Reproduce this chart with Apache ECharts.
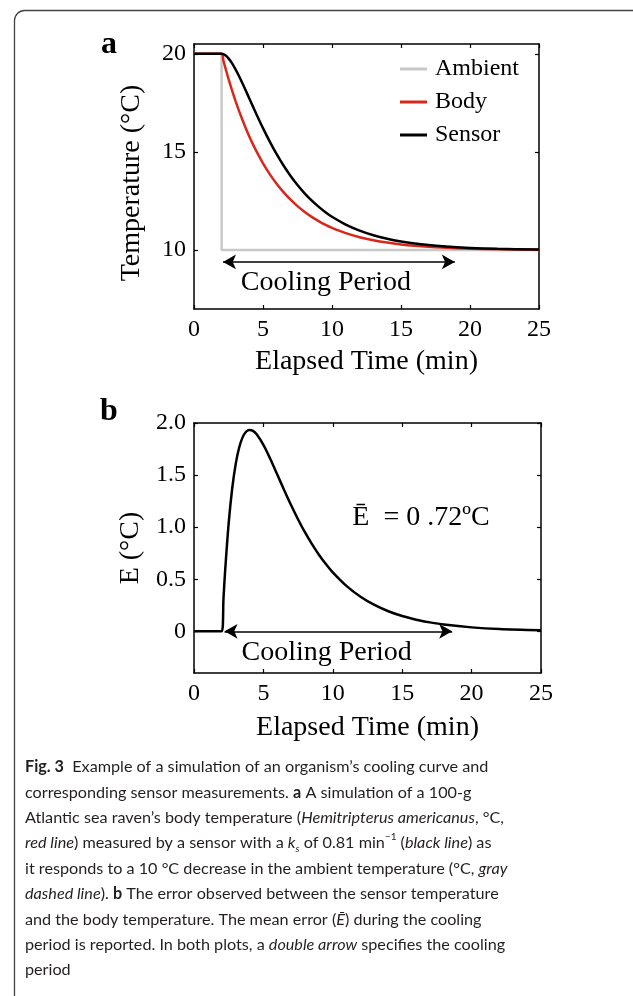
<!DOCTYPE html>
<html>
<head>
<meta charset="utf-8">
<script src="https://cdn.jsdelivr.net/npm/echarts@6.0.0/dist/echarts.min.js"></script>
<style>
html,body{margin:0;padding:0;background:#fff;}
#chart{width:633px;height:996px;}
</style>
</head>
<body>
<div id="chart"></div>
<script>
// ---- data ----
const timeMin = [0, 2, 2.125, 2.25, 2.5, 2.75, 3, 3.25, 3.5, 3.75, 4, 4.25, 4.5, 5, 5.5, 6, 6.5, 7, 7.5, 8, 8.5, 9, 9.5, 10, 11, 12, 13, 14, 15, 16, 17, 18, 20, 22, 25];
const bodyTemp = [20, 20, 19.666, 19.343, 18.728, 18.155, 17.619, 17.118, 16.650, 16.213, 15.804, 15.423, 15.066, 14.422, 13.860, 13.369, 12.941, 12.567, 12.240, 11.955, 11.707, 11.490, 11.300, 11.135, 10.865, 10.659, 10.502, 10.383, 10.291, 10.222, 10.169, 10.129, 10.075, 10.043, 10.019];
const sensorTemp = [20, 20, 19.984, 19.937, 19.769, 19.524, 19.222, 18.880, 18.512, 18.129, 17.738, 17.348, 16.960, 16.213, 15.515, 14.874, 14.296, 13.777, 13.314, 12.904, 12.544, 12.226, 11.946, 11.701, 11.299, 10.991, 10.755, 10.576, 10.438, 10.334, 10.255, 10.194, 10.113, 10.065, 10.029];
const errorVals = [0, 0, 0.318, 0.594, 1.041, 1.369, 1.603, 1.762, 1.862, 1.916, 1.934, 1.925, 1.894, 1.791, 1.655, 1.505, 1.355, 1.210, 1.074, 0.949, 0.837, 0.736, 0.646, 0.566, 0.434, 0.332, 0.253, 0.193, 0.147, 0.112, 0.086, 0.065, 0.038, 0.022, 0.010];
const ambientTime = [0, 2, 2, 25];
const ambientTemp = [20, 20, 10, 10];
const seriesNames = ['Ambient', 'Body', 'Sensor'];
const tempTicks = [10, 15, 20];
const errorTicks = [0, 0.5, 1.0, 1.5, 2.0];
const timeTicks = [0, 5, 10, 15, 20, 25];
const coolingArrowA = [[2.1, 9.4], [18.9, 9.4]];
const coolingArrowB = [[2.2, 0], [18.6, 0]];
const coolingLabelA = [9.56, 8.35];
const coolingLabelB = [9.56, -0.2];
const meanErrorLabel = [16.35, 1.09];
const meanErrorText = 'Ē  = 0 .72ºC';

const zip = (xs, ys) => xs.map((x, i) => [x, ys[i]]);
const SERIF = '"Liberation Serif", "Times New Roman", serif';
const SANS = 'Lato, "Noto Sans", sans-serif';

function xAxisPair(grid, gap) {
  return [
    {
      gridIndex: grid, type: 'value', position: 'bottom', min: 0, max: 25, interval: 5,
      axisLine: {show: true, onZero: false, lineStyle: {color: '#000', width: 1.5}},
      axisTick: {show: true, inside: true, length: 4, lineStyle: {color: '#000', width: 1.2}},
      axisLabel: {show: true, margin: 9, color: '#000', fontFamily: SERIF, fontSize: 24,
        customValues: timeTicks},
      splitLine: {show: false},
      name: 'Elapsed Time (min)', nameLocation: 'middle', nameGap: gap,
      nameTextStyle: {color: '#000', fontFamily: SERIF, fontSize: 28}
    },
    {
      gridIndex: grid, type: 'value', position: 'top', min: 0, max: 25, interval: 5,
      axisLine: {show: true, onZero: false, lineStyle: {color: '#000', width: 1.5}},
      axisTick: {show: true, inside: true, length: 4, lineStyle: {color: '#000', width: 1.2}},
      axisLabel: {show: false}, splitLine: {show: false}
    }
  ];
}

function yAxisPair(grid, min, max, ticks, name, fmt, pad) {
  return [
    {
      gridIndex: grid, type: 'value', position: 'left', min: min, max: max,
      axisLine: {show: true, onZero: false, lineStyle: {color: '#000', width: 1.5}},
      axisTick: {show: true, inside: true, length: 4, customValues: ticks, lineStyle: {color: '#000', width: 1.2}},
      axisLabel: {show: true, margin: 8, color: '#000', fontFamily: SERIF, fontSize: 24,
        customValues: ticks, formatter: fmt},
      splitLine: {show: false},
      name: name, nameLocation: 'middle', nameGap: 48,
      nameTextStyle: {color: '#000', fontFamily: SERIF, fontSize: 28, padding: pad}
    },
    {
      gridIndex: grid, type: 'value', position: 'right', min: min, max: max,
      axisLine: {show: true, onZero: false, lineStyle: {color: '#000', width: 1.5}},
      axisTick: {show: true, inside: true, length: 4, customValues: ticks, lineStyle: {color: '#000', width: 1.2}},
      axisLabel: {show: false}, splitLine: {show: false}
    }
  ];
}

const captionLines = [
  '{b|Fig. 3}{n|  Example of a simulation of an organism’s cooling curve and}',
  '{n|corresponding sensor measurements. }{b|a}{n| A simulation of a 100-g}',
  '{n|Atlantic sea raven’s body temperature (}{i|Hemitripterus americanus}{n|, °C,}',
  '{i|red line}{n|) measured by a sensor with a }{i|k}{sub|s}{n| of 0.81 min}{sup|−1}{n| (}{i|black line}{n|) as}',
  '{n|it responds to a 10 °C decrease in the ambient temperature (°C, }{i|gray}',
  '{i|dashed line}{n|). }{b|b}{n| The error observed between the sensor temperature}',
  '{n|and the body temperature. The mean error (}{i|Ē}{n|) during the cooling}',
  '{n|period is reported. In both plots, a }{i|double arrow}{n| specifies the cooling}',
  '{n|period}'
];
const CAP_FS = 16.2;
const capColor = '#231f20';
const capRich = {
  n: {fontFamily: SANS, fontSize: CAP_FS, color: capColor, lineHeight: 22},
  b: {fontFamily: SANS, fontSize: CAP_FS, fontWeight: 'bold', color: capColor, lineHeight: 22},
  i: {fontFamily: SANS, fontSize: CAP_FS, fontStyle: 'italic', color: capColor, lineHeight: 22},
  sub: {fontFamily: SANS, fontSize: 10, fontStyle: 'italic', color: capColor, lineHeight: 10, verticalAlign: 'bottom'},
  sup: {fontFamily: SANS, fontSize: 10, color: capColor, lineHeight: 10, verticalAlign: 'top'}
};

const graphics = [
  {type: 'rect', silent: true, z: 0,
   shape: {x: 14.5, y: 10.5, width: 700, height: 1100, r: [10, 0, 0, 0]},
   style: {fill: 'none', stroke: '#444', lineWidth: 1.3}},
  {type: 'text', x: 109, y: 45, style: {text: 'a', fontFamily: SERIF, fontSize: 32, fontWeight: 'bold', fill: '#000', align: 'center', verticalAlign: 'middle'}},
  {type: 'text', x: 109, y: 412, style: {text: 'b', fontFamily: SERIF, fontSize: 32, fontWeight: 'bold', fill: '#000', align: 'center', verticalAlign: 'middle'}}
];
const capY0 = 767, capDY = 25.4;
captionLines.forEach((ln, i) => {
  graphics.push({type: 'text', x: 25, y: capY0 + i * capDY,
    style: {text: ln, rich: capRich, align: 'left', verticalAlign: 'middle', fill: capColor}});
});

const arrowLine = (pts) => ({
  silent: true, symbol: ['arrow', 'arrow'], symbolSize: [11, 13],
  lineStyle: {color: '#000', width: 1.5, type: 'solid'},
  label: {show: false},
  data: [[{coord: pts[0]}, {coord: pts[1]}]]
});

const option = {
  animation: false,
  backgroundColor: '#fff',
  grid: [
    {left: 194, top: 44, width: 345, height: 265},
    {left: 194, top: 423, width: 347, height: 250}
  ],
  xAxis: [...xAxisPair(0, 39), ...xAxisPair(1, 41)],
  yAxis: [
    ...yAxisPair(0, 7, 20.5, tempTicks, 'Temperature (°C)', v => String(v), [0, 13, 0, 0]),
    ...yAxisPair(1, -0.4, 2.0, errorTicks, 'E (°C)', v => (v === 0 ? '0' : v.toFixed(1)), [0, 0, 0, 0])
  ],
  legend: {
    data: seriesNames, orient: 'vertical', left: 395, top: 52,
    icon: 'rect', itemWidth: 27, itemHeight: 3, itemGap: 9,
    textStyle: {color: '#000', fontFamily: SERIF, fontSize: 24, padding: [0, 0, 0, 3]}
  },
  graphic: graphics,
  series: [
    {name: seriesNames[0], type: 'line', xAxisIndex: 0, yAxisIndex: 0, data: zip(ambientTime, ambientTemp),
     symbol: 'none', color: '#c8c8c8', lineStyle: {color: '#c8c8c8', width: 2.5}, z: 2},
    {name: seriesNames[1], type: 'line', xAxisIndex: 0, yAxisIndex: 0, data: zip(timeMin, bodyTemp),
     symbol: 'none', smooth: 0.3, color: '#d8281c', lineStyle: {color: '#d8281c', width: 2.5}, z: 3},
    {name: seriesNames[2], type: 'line', xAxisIndex: 0, yAxisIndex: 0, data: zip(timeMin, sensorTemp),
     symbol: 'none', smooth: 0.3, color: '#000', lineStyle: {color: '#000', width: 2.5}, z: 4,
     markLine: arrowLine(coolingArrowA)},
    {name: 'E', type: 'line', xAxisIndex: 2, yAxisIndex: 2, data: zip(timeMin, errorVals),
     symbol: 'none', smooth: 0.3, color: '#000', lineStyle: {color: '#000', width: 2.5}, z: 4,
     markLine: arrowLine(coolingArrowB)}
  ]
};

const chart = echarts.init(document.getElementById('chart'), null, {renderer: 'canvas'});
chart.setOption(option);

// annotation texts positioned through the axes' own scales
const annot = [
  {grid: 0, pos: coolingLabelA, text: 'Cooling Period'},
  {grid: 1, pos: coolingLabelB, text: 'Cooling Period'},
  {grid: 1, pos: meanErrorLabel, text: meanErrorText}
];
const extra = annot.map(a => {
  const p = chart.convertToPixel({xAxisIndex: a.grid * 2, yAxisIndex: a.grid * 2}, a.pos);
  return {type: 'text', x: p[0], y: p[1], z: 10, silent: true,
    style: {text: a.text, fontFamily: SERIF, fontSize: 28, fill: '#000', align: 'center', verticalAlign: 'middle'}};
});
chart.setOption({graphic: graphics.concat(extra)});
</script>
</body>
</html>
